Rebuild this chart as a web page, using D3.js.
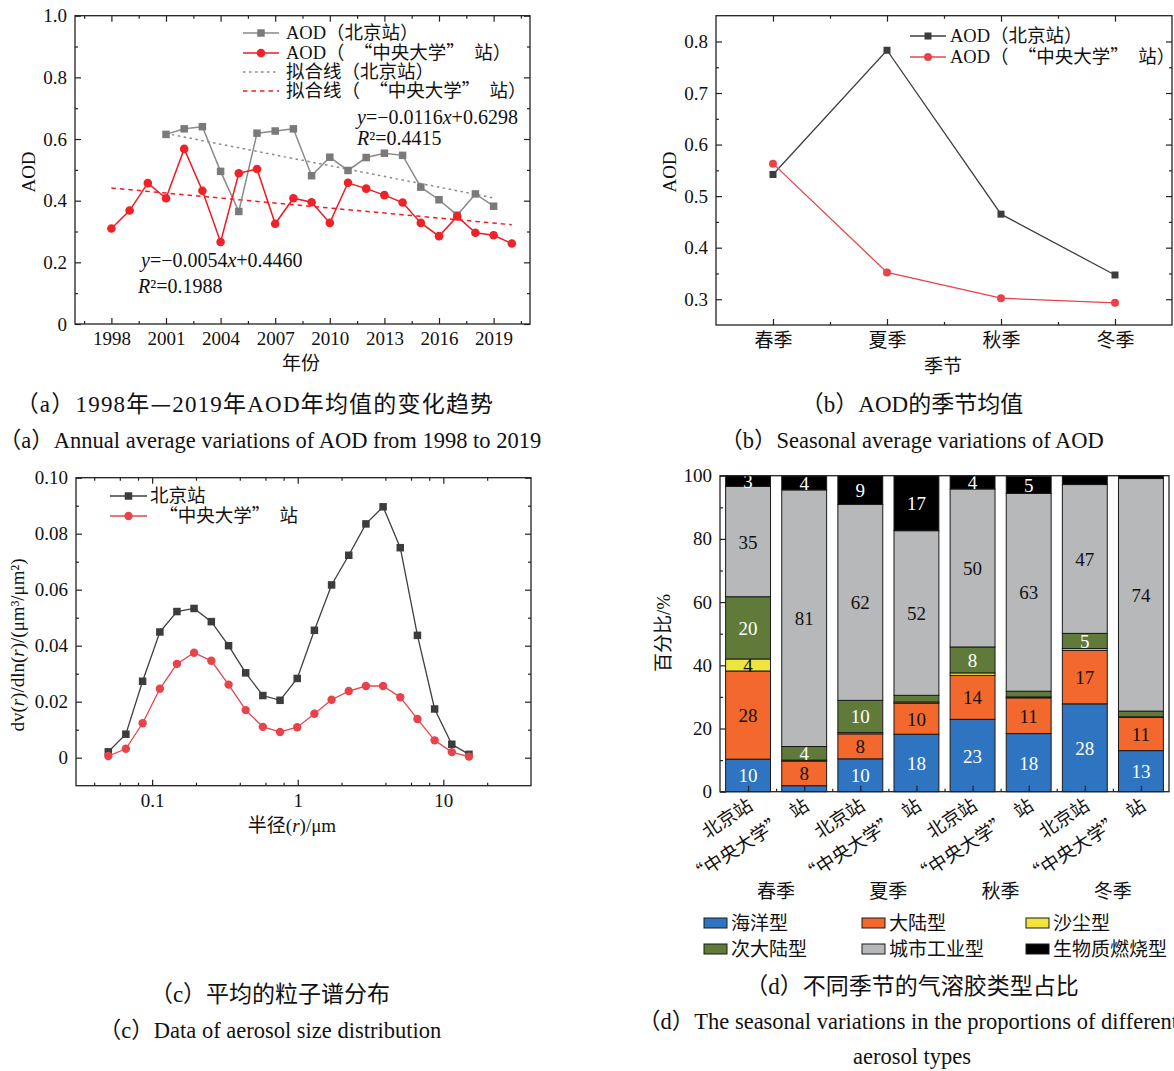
<!DOCTYPE html>
<html><head><meta charset="utf-8">
<script src="https://cdn.jsdelivr.net/npm/d3@7"></script>
<style>body{margin:0;background:#fff} svg{display:block}</style>
</head><body>
<svg id="c" width="1174" height="1071"></svg>
<script>
// ---------- DATA ----------
// (a) annual AOD
const yearsBJ = [2001,2002,2003,2004,2005,2006,2007,2008,2009,2010,2011,2012,2013,2014,2015,2016,2017,2018,2019];
const aodBJ = [0.615,0.633,0.640,0.495,0.365,0.619,0.626,0.633,0.481,0.541,0.498,0.540,0.554,0.547,0.444,0.403,0.353,0.422,0.382];
const yearsZY = [1998,1999,2000,2001,2002,2003,2004,2005,2006,2007,2008,2009,2010,2011,2012,2013,2014,2015,2016,2017,2018,2019,2020];
const aodZY = [0.310,0.368,0.457,0.408,0.568,0.432,0.266,0.489,0.503,0.325,0.408,0.395,0.328,0.458,0.439,0.418,0.394,0.328,0.285,0.349,0.296,0.288,0.261];
const fitYearsBJ = [2001,2019];
const fitBJ = [0.618,0.409];
const fitYearsZY = [1998,2020];
const fitZY = [0.441,0.322];
const yearTicks = [1998,2001,2004,2007,2010,2013,2016,2019];
// (b) seasonal AOD
const seasons = ["春季","夏季","秋季","冬季"];
const seasonBJ = [0.542,0.783,0.465,0.347];
const seasonZY = [0.563,0.352,0.302,0.293];
// (c) size distribution
const radius = [0.050,0.066,0.086,0.113,0.148,0.194,0.255,0.335,0.439,0.576,0.756,0.992,1.302,1.708,2.241,2.940,3.857,5.061,6.641,8.713,11.432,15.000];
const sizeBJ = [0.0021,0.0084,0.0273,0.0449,0.0522,0.0533,0.0486,0.0400,0.0303,0.0222,0.0205,0.0283,0.0455,0.0617,0.0723,0.0835,0.0896,0.0750,0.0437,0.0174,0.0048,0.0012];
const sizeZY = [0.0006,0.0032,0.0123,0.0246,0.0335,0.0375,0.0346,0.0261,0.0170,0.0110,0.0092,0.0109,0.0157,0.0207,0.0238,0.0256,0.0256,0.0216,0.0138,0.0062,0.0020,0.0004];
// (d) aerosol types (%)
const barStations = ["北京站","“中央大学”站","北京站","“中央大学”站","北京站","“中央大学”站","北京站","“中央大学”站"];
const typeNames = ["海洋型","大陆型","沙尘型","次大陆型","城市工业型","生物质燃烧型"];
const ocean   = [10.3, 1.9,10.4,18.2,22.9,18.4,27.8,13.0];
const cont    = [27.9, 7.8, 7.9, 9.8,13.9,11.3,16.9,10.5];
const dust    = [ 3.8, 0.3, 0.4, 0.4, 0.8, 0.3, 0.6, 0.2];
const subcont = [19.7, 4.3,10.2, 2.1, 8.2, 1.8, 4.8, 1.8];
const urban   = [34.9,81.2,62.0,52.1,50.0,62.6,47.1,73.6];
const biomass = [ 3.4, 4.4, 9.1,17.4, 4.2, 5.4, 2.8, 0.9];

// ---------- HELPERS ----------
const svg = d3.select("#c");
const SERIF = '"Liberation Serif","Times New Roman",serif';
const CJK = '"Noto Sans CJK SC","Noto Sans CJK JP",sans-serif';
const isCJK = c => /[\u2010-\u206f\u3000-\u9fff\uff00-\uffef]/.test(c) && c !== "−";
// full-width look for curly quotes
const fw = s => s.replace(/“/g, "\u2002“").replace(/”/g, "”\u2002");

function fill(textSel, parts) {
  if (typeof parts === "string") parts = [[parts, {}]];
  parts.forEach(p => {
    if (typeof p === "string") p = [p, {}];
    let [str, st] = p;
    str = fw(str);
    let cur = "", curC = null;
    const flush = () => {
      if (!cur) return;
      const t = textSel.append("tspan").text(cur).attr("font-family", curC ? CJK : SERIF);
      if (st.i) t.attr("font-style", "italic");
      cur = "";
    };
    for (const ch of str) {
      const c = isCJK(ch);
      if (curC !== null && c !== curC) flush();
      curC = c; cur += ch;
    }
    flush();
  });
  return textSel;
}
function label(parent, x, y, parts, o = {}) {
  const t = parent.append("text").attr("x", x).attr("y", y)
    .attr("font-size", o.size || 19).attr("fill", o.fill || "#111")
    .attr("text-anchor", o.anchor || "start");
  if (o.ls) t.attr("letter-spacing", o.ls);
  if (o.rotate !== undefined) t.attr("transform", `rotate(${o.rotate},${x},${y})`);
  return fill(t, parts);
}
function styleAxis(g) {
  g.select(".domain").remove();
  g.selectAll(".tick line").attr("stroke", "#222").attr("stroke-width", 1.2);
  g.selectAll(".tick text").each(function () {
    const t = d3.select(this); const s = t.text(); t.text("");
    t.attr("font-size", 19).attr("fill", "#111");
    fill(t, s);
  });
}
function frameAxes(x, y, X0, X1, Y0, Y1, xMaj, xMin, yMaj, yMin, xFmt, yFmt) {
  const g = svg.append("g");
  styleAxis(g.append("g").attr("transform", `translate(0,${Y1})`)
    .call(d3.axisBottom(x).tickValues(xMaj).tickSize(-6).tickPadding(8).tickFormat(xFmt)));
  styleAxis(g.append("g").attr("transform", `translate(0,${Y1})`)
    .call(d3.axisBottom(x).tickValues(xMin).tickSize(-3).tickFormat("")));
  styleAxis(g.append("g").attr("transform", `translate(${X0},0)`)
    .call(d3.axisLeft(y).tickValues(yMaj).tickSize(-6).tickPadding(8).tickFormat(yFmt)));
  styleAxis(g.append("g").attr("transform", `translate(${X0},0)`)
    .call(d3.axisLeft(y).tickValues(yMin).tickSize(-3).tickFormat("")));
  styleAxis(g.append("g").attr("transform", `translate(0,${Y0})`)
    .call(d3.axisTop(x).tickValues(xMaj).tickSize(-6).tickFormat("")));
  styleAxis(g.append("g").attr("transform", `translate(0,${Y0})`)
    .call(d3.axisTop(x).tickValues(xMin).tickSize(-3).tickFormat("")));
  styleAxis(g.append("g").attr("transform", `translate(${X1},0)`)
    .call(d3.axisRight(y).tickValues(yMaj).tickSize(-6).tickFormat("")));
  styleAxis(g.append("g").attr("transform", `translate(${X1},0)`)
    .call(d3.axisRight(y).tickValues(yMin).tickSize(-3).tickFormat("")));
  g.append("rect").attr("x", X0).attr("y", Y0).attr("width", X1 - X0).attr("height", Y1 - Y0)
    .attr("fill", "none").attr("stroke", "#222").attr("stroke-width", 1.3);
  return g;
}
function series(xs, ys, x, y, color, lineColor, marker, size, lw = 1.4) {
  const pts = xs.map((d, i) => [d, ys[i]]);
  svg.append("path").datum(pts).attr("fill", "none").attr("stroke", lineColor).attr("stroke-width", lw)
    .attr("d", d3.line().x(d => x(d[0])).y(d => y(d[1])));
  const g = svg.append("g");
  if (marker === "square") {
    g.selectAll("rect").data(pts).join("rect")
      .attr("x", d => x(d[0]) - size / 2).attr("y", d => y(d[1]) - size / 2)
      .attr("width", size).attr("height", size).attr("fill", color);
  } else {
    g.selectAll("circle").data(pts).join("circle")
      .attr("cx", d => x(d[0])).attr("cy", d => y(d[1])).attr("r", size).attr("fill", color);
  }
}
function legendLine(x0, x1, yy, color, marker, mcolor, size, dash, lw = 1.4) {
  const l = svg.append("line").attr("x1", x0).attr("x2", x1).attr("y1", yy).attr("y2", yy)
    .attr("stroke", color).attr("stroke-width", lw);
  if (dash) l.attr("stroke-dasharray", dash);
  const cx = (x0 + x1) / 2;
  if (marker === "square") svg.append("rect").attr("x", cx - size / 2).attr("y", yy - size / 2).attr("width", size).attr("height", size).attr("fill", mcolor);
  if (marker === "circle") svg.append("circle").attr("cx", cx).attr("cy", yy).attr("r", size).attr("fill", mcolor);
}

// ---------- PANEL A ----------
{
  const X0 = 75, X1 = 530, Y0 = 15.7, Y1 = 324;
  const x = d3.scaleLinear().domain([1996, 2021]).range([X0, X1]);
  const y = d3.scaleLinear().domain([0, 1]).range([Y1, Y0]);
  frameAxes(x, y, X0, X1, Y0, Y1, yearTicks, [1996.5].concat(yearTicks.map(d => d + 1.5)),
    [0, 0.2, 0.4, 0.6, 0.8, 1.0], [0.1, 0.3, 0.5, 0.7, 0.9],
    d => String(d), d => d === 0 ? "0" : d.toFixed(1));
  svg.append("path").datum(fitYearsBJ.map((d, i) => [d, fitBJ[i]])).attr("fill", "none")
    .attr("stroke", "#8a8a8a").attr("stroke-width", 1.5).attr("stroke-dasharray", "2.5,3.5")
    .attr("d", d3.line().x(d => x(d[0])).y(d => y(d[1])));
  svg.append("path").datum(fitYearsZY.map((d, i) => [d, fitZY[i]])).attr("fill", "none")
    .attr("stroke", "#ee1c24").attr("stroke-width", 1.5).attr("stroke-dasharray", "4.5,4")
    .attr("d", d3.line().x(d => x(d[0])).y(d => y(d[1])));
  series(yearsBJ, aodBJ, x, y, "#7a7a7a", "#8a8a8a", "square", 7.5, 1.5);
  series(yearsZY, aodZY, x, y, "#ee2228", "#ee1c24", "circle", 4.3, 1.5);
  legendLine(243, 279, 33, "#8a8a8a", "square", "#7a7a7a", 7.5, null, 1.5);
  legendLine(243, 279, 53, "#ee1c24", "circle", "#ee2228", 4.3, null, 1.5);
  legendLine(243, 279, 72, "#8a8a8a", null, null, 0, "2.5,3.5", 1.5);
  legendLine(243, 279, 91, "#ee1c24", null, null, 0, "4.5,4", 1.5);
  label(svg, 286, 39, "AOD（北京站）", { size: 18.5 });
  label(svg, 286, 59, "AOD（“中央大学”站）", { size: 18.5 });
  label(svg, 286, 78, "拟合线（北京站）", { size: 18.5 });
  label(svg, 286, 97, "拟合线（“中央大学”站）", { size: 18.5 });
  label(svg, 357, 124, [["y", { i: 1 }], "=−0.0116", ["x", { i: 1 }], "+0.6298"], { size: 20 });
  label(svg, 357, 145, [["R", { i: 1 }], "²=0.4415"], { size: 20 });
  label(svg, 141, 267, [["y", { i: 1 }], "=−0.0054", ["x", { i: 1 }], "+0.4460"], { size: 20 });
  label(svg, 138, 293, [["R", { i: 1 }], "²=0.1988"], { size: 20 });
  label(svg, 301, 370, "年份", { anchor: "middle" });
  label(svg, 35, 172, "AOD", { anchor: "middle", rotate: -90 });
  label(svg, 255, 412, "（a）1998年—2019年AOD年均值的变化趋势", { anchor: "middle", size: 23, ls: 1.2 });
  label(svg, 270, 448, "（a）Annual average variations of AOD from 1998 to 2019", { anchor: "middle", size: 22.5 });
}

// ---------- PANEL B ----------
{
  const X0 = 716, X1 = 1172, Y0 = 15.7, Y1 = 325;
  const x = d3.scaleLinear().domain([0.5, 4.5]).range([X0, X1]);
  const y = d3.scaleLinear().domain([0.25, 0.85]).range([Y1, Y0]);
  frameAxes(x, y, X0, X1, Y0, Y1, [1, 2, 3, 4], [1.5, 2.5, 3.5],
    [0.3, 0.4, 0.5, 0.6, 0.7, 0.8], [0.35, 0.45, 0.55, 0.65, 0.75],
    d => seasons[d - 1], d => d.toFixed(1));
  const idx = seasons.map((s, i) => i + 1);
  series(idx, seasonBJ, x, y, "#3c3c3c", "#3f3f3f", "square", 7, 1.3);
  series(idx, seasonZY, x, y, "#e8434b", "#e8434b", "circle", 4, 1.3);
  legendLine(910, 946, 36, "#3f3f3f", "square", "#3c3c3c", 7, null, 1.3);
  legendLine(910, 946, 57, "#e8434b", "circle", "#e8434b", 4, null, 1.3);
  label(svg, 950, 42, "AOD（北京站）", { size: 18.5 });
  label(svg, 950, 63, "AOD（“中央大学”站）", { size: 18.5 });
  label(svg, 943, 373, "季节", { anchor: "middle" });
  label(svg, 676, 172, "AOD", { anchor: "middle", rotate: -90 });
  label(svg, 912, 412, "（b）AOD的季节均值", { anchor: "middle", size: 23 });
  label(svg, 912, 448, "（b）Seasonal average variations of AOD", { anchor: "middle", size: 22.5 });
}

// ---------- PANEL C ----------
{
  const X0 = 76, X1 = 531, Y0 = 477.7, Y1 = 785.7;
  const x = d3.scaleLog().domain([0.03, 40]).range([X0, X1]);
  const y = d3.scaleLinear().domain([-0.01, 0.10]).range([Y1, Y0]);
  frameAxes(x, y, X0, X1, Y0, Y1, [0.1, 1, 10], [0.04, 0.06, 0.08, 0.2, 0.4, 0.6, 0.8, 2, 4, 6, 8, 20],
    [0, 0.02, 0.04, 0.06, 0.08, 0.10], [0.01, 0.03, 0.05, 0.07, 0.09],
    d => String(d), d => d === 0 ? "0" : d.toFixed(2));
  series(radius, sizeBJ, x, y, "#3c3c3c", "#3f3f3f", "square", 7.5, 1.3);
  series(radius, sizeZY, x, y, "#e8434b", "#e8434b", "circle", 4.2, 1.3);
  legendLine(110, 147, 496, "#3f3f3f", "square", "#3c3c3c", 7.5, null, 1.3);
  legendLine(110, 147, 516, "#e8434b", "circle", "#e8434b", 4.2, null, 1.3);
  label(svg, 150, 502, "北京站", { size: 18.5 });
  label(svg, 150, 522, "“中央大学”站", { size: 18.5 });
  label(svg, 292, 832, ["半径(", ["r", { i: 1 }], ")/μm"], { anchor: "middle" });
  label(svg, 24, 645, ["dv(", ["r", { i: 1 }], ")/dln(", ["r", { i: 1 }], ")/(μm³/μm²)"], { anchor: "middle", rotate: -90 });
  label(svg, 270, 1002, "（c）平均的粒子谱分布", { anchor: "middle", size: 23 });
  label(svg, 270, 1038, "（c）Data of aerosol size distribution", { anchor: "middle", size: 22.5 });
}

// ---------- PANEL D ----------
{
  const X0 = 720, X1 = 1169, Y0 = 475.7, Y1 = 791.7;
  const keys = d3.range(8);
  const x = d3.scaleBand().domain(keys).range([X0, X1]).paddingInner(0.2).paddingOuter(0.1);
  const y = d3.scaleLinear().domain([0, 100]).range([Y1, Y0]);
  const colors = ["#2e74c0", "#f2682d", "#f0e43e", "#607a3a", "#b7b8ba", "#000000"];
  const txtColors = ["#fff", "#111", "#111", "#fff", "#111", "#fff"];
  const table = keys.map(i => ({ ocean: ocean[i], cont: cont[i], dust: dust[i], subcont: subcont[i], urban: urban[i], biomass: biomass[i] }));
  const typeKeys = ["ocean", "cont", "dust", "subcont", "urban", "biomass"];
  const stacked = d3.stack().keys(typeKeys)(table);
  stacked.forEach((layer, k) => {
    svg.append("g").selectAll("rect").data(layer).join("rect")
      .attr("x", (d, i) => x(i)).attr("width", x.bandwidth())
      .attr("y", d => y(Math.min(100, d[1]))).attr("height", d => y(d[0]) - y(Math.min(100, d[1])))
      .attr("fill", colors[k]).attr("stroke", "#1a1a1a").attr("stroke-width", 1);
  });
  stacked.forEach((layer, k) => {
    layer.forEach((d, i) => {
      const v = d[1] - d[0];
      if (v >= 3) {
        label(svg, x(i) + x.bandwidth() / 2, y((d[0] + Math.min(100, d[1])) / 2) + 7, String(Math.round(v)),
          { anchor: "middle", fill: txtColors[k], size: 19 });
      }
    });
  });
  const g = svg.append("g");
  styleAxis(g.append("g").attr("transform", `translate(${X0},0)`)
    .call(d3.axisLeft(y).tickValues([0, 20, 40, 60, 80, 100]).tickSize(-6).tickPadding(8)));
  styleAxis(g.append("g").attr("transform", `translate(${X0},0)`)
    .call(d3.axisLeft(y).tickValues([10, 30, 50, 70, 90]).tickSize(-3).tickFormat("")));
  const centers = keys.map(i => x(i) + x.bandwidth() / 2);
  const mids = d3.range(1, 8).map(i => (x(i - 1) + x.bandwidth() + x(i)) / 2);
  styleAxis(g.append("g").attr("transform", `translate(0,${Y1})`)
    .call(d3.axisBottom(d3.scaleIdentity()).tickValues(centers).tickSize(-6).tickFormat("")));
  styleAxis(g.append("g").attr("transform", `translate(0,${Y1})`)
    .call(d3.axisBottom(d3.scaleIdentity()).tickValues(mids).tickSize(-3).tickFormat("")));
  g.append("rect").attr("x", X0).attr("y", Y0).attr("width", X1 - X0).attr("height", Y1 - Y0)
    .attr("fill", "none").attr("stroke", "#222").attr("stroke-width", 1.3);
  keys.forEach(i => {
    label(svg, centers[i] + 6, Y1 + 17, barStations[i], { anchor: "end", rotate: -33, size: 18.5 });
  });
  seasons.forEach((s, j) => {
    label(svg, (centers[2 * j] + centers[2 * j + 1]) / 2, 898, s, { anchor: "middle" });
  });
  const legPos = [[704, 923], [862, 923], [1026, 923], [704, 949], [862, 949], [1026, 949]];
  typeNames.forEach((n, k) => {
    const [lx, ly] = legPos[k];
    svg.append("rect").attr("x", lx).attr("y", ly - 5).attr("width", 23).attr("height", 10)
      .attr("fill", colors[k]).attr("stroke", "#1a1a1a").attr("stroke-width", 1);
    label(svg, lx + 27, ly + 7, n, { size: 19 });
  });
  label(svg, 670, 633, "百分比/%", { anchor: "middle", rotate: -90 });
  label(svg, 912, 994, "（d）不同季节的气溶胶类型占比", { anchor: "middle", size: 23 });
  label(svg, 638, 1029, "（d）The seasonal variations in the proportions of different", { size: 22.5 });
  label(svg, 912, 1064, "aerosol types", { anchor: "middle", size: 22.5 });
}
</script>
</body></html>
